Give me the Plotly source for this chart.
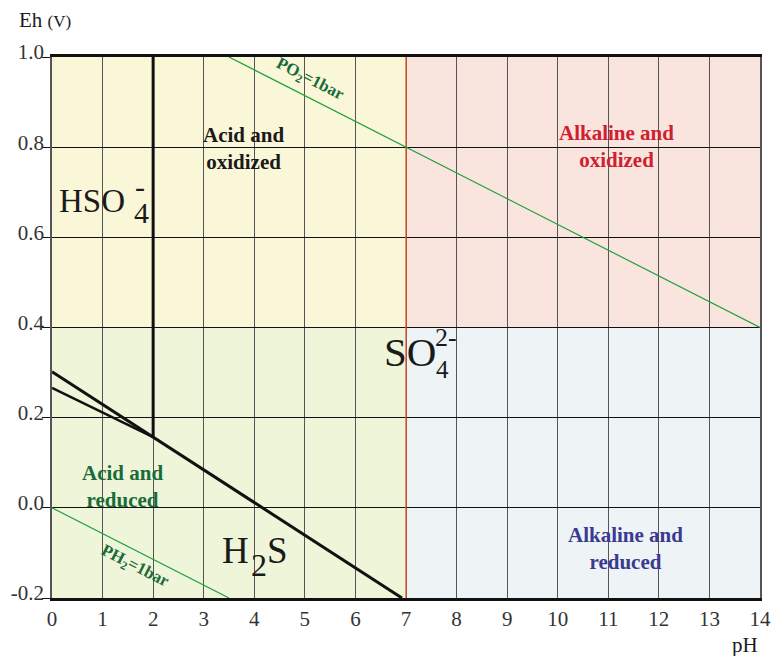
import plotly.graph_objects as go

# ---- data ----
x_ticks = list(range(0, 15))
y_ticks = [-0.2, 0.0, 0.2, 0.4, 0.6, 0.8, 1.0]
y_tick_labels = ["-0.2", "0.0", "0.2", "0.4", "0.6", "0.8", "1.0"]

# regions: (x0, x1, y0, y1, colour)
region_x0 = [0, 7, 0, 7]
region_x1 = [7, 14, 7, 14]
region_y0 = [0.4, 0.4, -0.2, -0.2]
region_y1 = [1.0, 1.0, 0.4, 0.4]
region_colors = ["#FAF6D8", "#F9E4DE", "#EEF5D9", "#EEF3F6"]

# boundary lines
hso4_so4_x = [2, 2]
hso4_so4_y = [0.157, 1.0]
s_h2s_x = [0, 6.92]
s_h2s_y = [0.302, -0.2]
s_hso4_x = [0, 2]
s_hso4_y = [0.266, 0.157]
neutral_x = [7, 7]
neutral_y = [-0.2, 1.0]
po2_x = [3.5, 14]
po2_y = [1.0, 0.4]
ph2_x = [0, 3.5]
ph2_y = [0.0, -0.2]

SERIF = "Liberation Serif, Times New Roman, serif"

fig = go.Figure()

for x0, x1, y0, y1, c in zip(region_x0, region_x1, region_y0, region_y1, region_colors):
    fig.add_shape(type="rect", xref="x", yref="y", x0=x0, x1=x1, y0=y0, y1=y1,
                  fillcolor=c, line_width=0, layer="below")

def line(x, y, color, width):
    fig.add_trace(go.Scatter(x=x, y=y, mode="lines", line=dict(color=color, width=width),
                             hoverinfo="skip", showlegend=False, cliponaxis=False))

line(neutral_x, neutral_y, "#E8542A", 1.3)
line(po2_x, po2_y, "#1FA040", 1.2)
line(ph2_x, ph2_y, "#1FA040", 1.2)
line(hso4_so4_x, hso4_so4_y, "#111111", 3)
line(s_hso4_x, s_hso4_y, "#111111", 2.5)
line(s_h2s_x, s_h2s_y, "#111111", 3)

ann = []
def t(x, y, text, size, color="#1a1a1a", bold=False, xanchor="center", yanchor="middle",
      angle=0, xref="x", yref="y", align="center"):
    if bold:
        text = "<b>" + text.replace("<br>", "</b><br><b>") + "</b>"
    ann.append(dict(x=x, y=y, xref=xref, yref=yref, text=text, showarrow=False,
                    xanchor=xanchor, yanchor=yanchor, textangle=angle, align=align,
                    font=dict(family=SERIF, size=size, color=color)))

# region labels
t(3.78, 0.798, "Acid and<br>oxidized", 21, "#1a1a1a", True)
t(11.17, 0.801, "Alkaline and<br>oxidized", 21, "#D0202F", True)
t(1.40, 0.048, "Acid and<br>reduced", 21, "#1A6B3A", True)
t(11.35, -0.091, "Alkaline and<br>reduced", 21, "#3A3A90", True)

# species
t(0.10, 0.680, "HSO", 33, xanchor="left")
t(1.58, 0.656, "4", 30, xanchor="left")
t(1.61, 0.712, "-", 30, xanchor="left")
t(6.53, 0.346, "SO", 41, xanchor="left")
t(7.55, 0.306, "4", 25, xanchor="left")
t(7.54, 0.378, "2-", 26, xanchor="left")
t(3.32, -0.094, "H", 37, xanchor="left")
t(3.90, -0.127, "2", 32, xanchor="left")
t(4.22, -0.094, "S", 37, xanchor="left")
t(-0.237, 0.286, "S", 22)

# gas lines
t(5.10, 0.949, "PO<sub>2</sub>=1bar", 17, "#1A6B3A", True, angle=27)
t(1.64, -0.131, "PH<sub>2</sub>=1bar", 17, "#1A6B3A", True, angle=27)

# axis titles
t(-0.049, 1.068, "Eh <span style='font-size:17px'>(V)</span>", 21, "#1a1a1a",
  xanchor="left", xref="paper", yref="paper")
t(1.0, -0.087, "pH", 21, "#1a1a1a", xanchor="right", xref="paper", yref="paper")

fig.update_layout(
    width=775, height=656,
    margin=dict(l=52, r=15, t=57, b=58, autoexpand=False),
    paper_bgcolor="white", plot_bgcolor="white",
    annotations=ann,
    showlegend=False,
    xaxis=dict(range=[0, 14], tickmode="array", tickvals=x_ticks,
               ticktext=[str(v) for v in x_ticks],
               showgrid=True, gridcolor="#555555", gridwidth=1, zeroline=False,
               showline=True, linecolor="#111111", linewidth=2.5, mirror=True,
               ticks="", automargin=False, ticklabelstandoff=0,
               tickfont=dict(family=SERIF, size=21, color="#333333")),
    yaxis=dict(range=[-0.2, 1.0], tickmode="array", tickvals=y_ticks, ticktext=y_tick_labels,
               showgrid=True, gridcolor="#111111", gridwidth=1, zeroline=False,
               showline=True, linecolor="#555555", linewidth=1.5, mirror=True,
               ticks="outside", ticklen=8, tickcolor="#111111", ticklabelstandoff=-6,
               ticklabelshift=-5, automargin=False,
               tickfont=dict(family=SERIF, size=21, color="#333333")),
)

fig.write_html("out.html", post_script="document.body.style.margin='0';",
               config={"displayModeBar": False})
